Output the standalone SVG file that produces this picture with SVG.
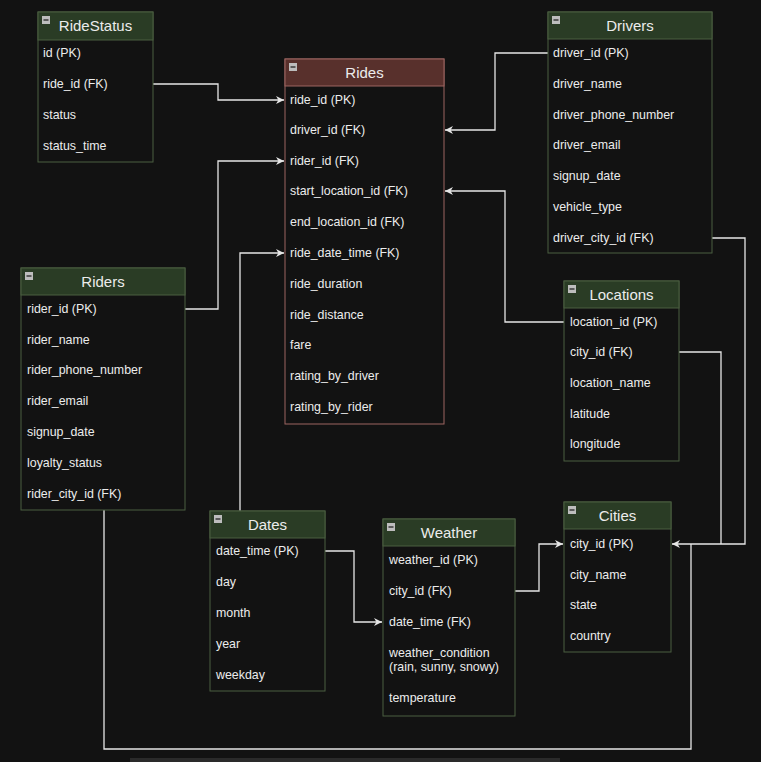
<svg xmlns="http://www.w3.org/2000/svg" width="761" height="762" viewBox="0 0 761 762">
<defs>
<style>
.bg{fill:#121212}
.box{fill:#121212;stroke:#4a5e40;stroke-width:1}
.hdr{fill:#2a3c25;stroke:#4a5e40;stroke-width:1}
.rbox{fill:#121212;stroke:#9c6560;stroke-width:1}
.rhdr{fill:#58302c;stroke:#9c6560;stroke-width:1}
.t{font-family:"Liberation Sans",Arial,sans-serif;font-size:12.4px;fill:#ececec}
.h{font-family:"Liberation Sans",Arial,sans-serif;font-size:15px;fill:#ececec;text-anchor:middle}
.ic{fill:#bdbdbd}
.icl{stroke:#3a3a3a;stroke-width:1.5}
.c{fill:none;stroke:#e6e6e6;stroke-width:1.3}
</style>
<marker id="arr" viewBox="0 0 10 10" refX="10" refY="5" markerWidth="8" markerHeight="8" orient="auto" markerUnits="userSpaceOnUse">
<path d="M0,0 L10,5 L0,10 L3,5 Z" fill="#e6e6e6"/>
</marker>
</defs>
<rect class="bg" x="0" y="0" width="761" height="762"/>
<rect x="130" y="758" width="430" height="4" fill="#2a2a2a"/>

<g id="connectors">
<path class="c" d="M153,84 H218 V100 H284" marker-end="url(#arr)"/>
<path class="c" d="M548,53 H495 V130 H445" marker-end="url(#arr)"/>
<path class="c" d="M185,309 H218 V161 H284" marker-end="url(#arr)"/>
<path class="c" d="M564,322 H505 V191 H445" marker-end="url(#arr)"/>
<path class="c" d="M240,511 V253 H284" marker-end="url(#arr)"/>
<path class="c" d="M712,238 H745 V544 H672" marker-end="url(#arr)"/>
<path class="c" d="M679,352 H721 V544"/>
<path class="c" d="M104,510 V749 H691 V544"/>
<path class="c" d="M515,591 H539 V544 H563" marker-end="url(#arr)"/>
<path class="c" d="M325,551 H354 V622 H382" marker-end="url(#arr)"/>
</g>

<g id="RideStatus">
<rect class="box" x="38" y="12" width="115" height="150"/>
<rect class="hdr" x="38" y="12" width="115" height="28"/>
<rect class="ic" x="42" y="16" width="8" height="8"/><line class="icl" x1="43.5" y1="20" x2="48.5" y2="20"/>
<text class="h" x="95.5" y="31">RideStatus</text>
<text class="t" x="43" y="57">id (PK)</text>
<text class="t" x="43" y="88">ride_id (FK)</text>
<text class="t" x="43" y="119">status</text>
<text class="t" x="43" y="150">status_time</text>
</g>

<g id="Rides">
<rect class="rbox" x="285" y="59" width="159" height="365"/>
<rect class="rhdr" x="285" y="59" width="159" height="27"/>
<rect class="ic" x="289" y="63" width="8" height="8"/><line class="icl" x1="290.5" y1="67" x2="295.5" y2="67"/>
<text class="h" x="364.5" y="78">Rides</text>
<text class="t" x="290" y="104">ride_id (PK)</text>
<text class="t" x="290" y="134">driver_id (FK)</text>
<text class="t" x="290" y="165">rider_id (FK)</text>
<text class="t" x="290" y="195">start_location_id (FK)</text>
<text class="t" x="290" y="226">end_location_id (FK)</text>
<text class="t" x="290" y="257">ride_date_time (FK)</text>
<text class="t" x="290" y="288">ride_duration</text>
<text class="t" x="290" y="319">ride_distance</text>
<text class="t" x="290" y="349">fare</text>
<text class="t" x="290" y="380">rating_by_driver</text>
<text class="t" x="290" y="411">rating_by_rider</text>
</g>

<g id="Drivers">
<rect class="box" x="548" y="12" width="164" height="241"/>
<rect class="hdr" x="548" y="12" width="164" height="27"/>
<rect class="ic" x="552" y="16" width="8" height="8"/><line class="icl" x1="553.5" y1="20" x2="558.5" y2="20"/>
<text class="h" x="630" y="31">Drivers</text>
<text class="t" x="553" y="57">driver_id (PK)</text>
<text class="t" x="553" y="88">driver_name</text>
<text class="t" x="553" y="119">driver_phone_number</text>
<text class="t" x="553" y="149">driver_email</text>
<text class="t" x="553" y="180">signup_date</text>
<text class="t" x="553" y="211">vehicle_type</text>
<text class="t" x="553" y="242">driver_city_id (FK)</text>
</g>

<g id="Riders">
<rect class="box" x="21" y="268" width="164" height="242"/>
<rect class="hdr" x="21" y="268" width="164" height="27"/>
<rect class="ic" x="25" y="272" width="8" height="8"/><line class="icl" x1="26.5" y1="276" x2="31.5" y2="276"/>
<text class="h" x="103" y="287">Riders</text>
<text class="t" x="27" y="313">rider_id (PK)</text>
<text class="t" x="27" y="344">rider_name</text>
<text class="t" x="27" y="374">rider_phone_number</text>
<text class="t" x="27" y="405">rider_email</text>
<text class="t" x="27" y="436">signup_date</text>
<text class="t" x="27" y="467">loyalty_status</text>
<text class="t" x="27" y="498">rider_city_id (FK)</text>
</g>

<g id="Locations">
<rect class="box" x="564" y="281" width="115" height="180"/>
<rect class="hdr" x="564" y="281" width="115" height="27"/>
<rect class="ic" x="568" y="285" width="8" height="8"/><line class="icl" x1="569.5" y1="289" x2="574.5" y2="289"/>
<text class="h" x="621.5" y="300">Locations</text>
<text class="t" x="570" y="326">location_id (PK)</text>
<text class="t" x="570" y="356">city_id (FK)</text>
<text class="t" x="570" y="387">location_name</text>
<text class="t" x="570" y="418">latitude</text>
<text class="t" x="570" y="448">longitude</text>
</g>

<g id="Dates">
<rect class="box" x="210" y="511" width="115" height="180"/>
<rect class="hdr" x="210" y="511" width="115" height="27"/>
<rect class="ic" x="214" y="515" width="8" height="8"/><line class="icl" x1="215.5" y1="519" x2="220.5" y2="519"/>
<text class="h" x="267.5" y="530">Dates</text>
<text class="t" x="216" y="555">date_time (PK)</text>
<text class="t" x="216" y="586">day</text>
<text class="t" x="216" y="617">month</text>
<text class="t" x="216" y="648">year</text>
<text class="t" x="216" y="679">weekday</text>
</g>

<g id="Weather">
<rect class="box" x="383" y="519" width="132" height="197"/>
<rect class="hdr" x="383" y="519" width="132" height="27"/>
<rect class="ic" x="387" y="523" width="8" height="8"/><line class="icl" x1="388.5" y1="527" x2="393.5" y2="527"/>
<text class="h" x="449" y="538">Weather</text>
<text class="t" x="389" y="564">weather_id (PK)</text>
<text class="t" x="389" y="595">city_id (FK)</text>
<text class="t" x="389" y="626">date_time (FK)</text>
<text class="t" x="389" y="657">weather_condition</text>
<text class="t" x="389" y="671">(rain, sunny, snowy)</text>
<text class="t" x="389" y="702">temperature</text>
</g>

<g id="Cities">
<rect class="box" x="564" y="502" width="107" height="150"/>
<rect class="hdr" x="564" y="502" width="107" height="27"/>
<rect class="ic" x="568" y="506" width="8" height="8"/><line class="icl" x1="569.5" y1="510" x2="574.5" y2="510"/>
<text class="h" x="617.5" y="521">Cities</text>
<text class="t" x="570" y="548">city_id (PK)</text>
<text class="t" x="570" y="579">city_name</text>
<text class="t" x="570" y="609">state</text>
<text class="t" x="570" y="640">country</text>
</g>
</svg>
